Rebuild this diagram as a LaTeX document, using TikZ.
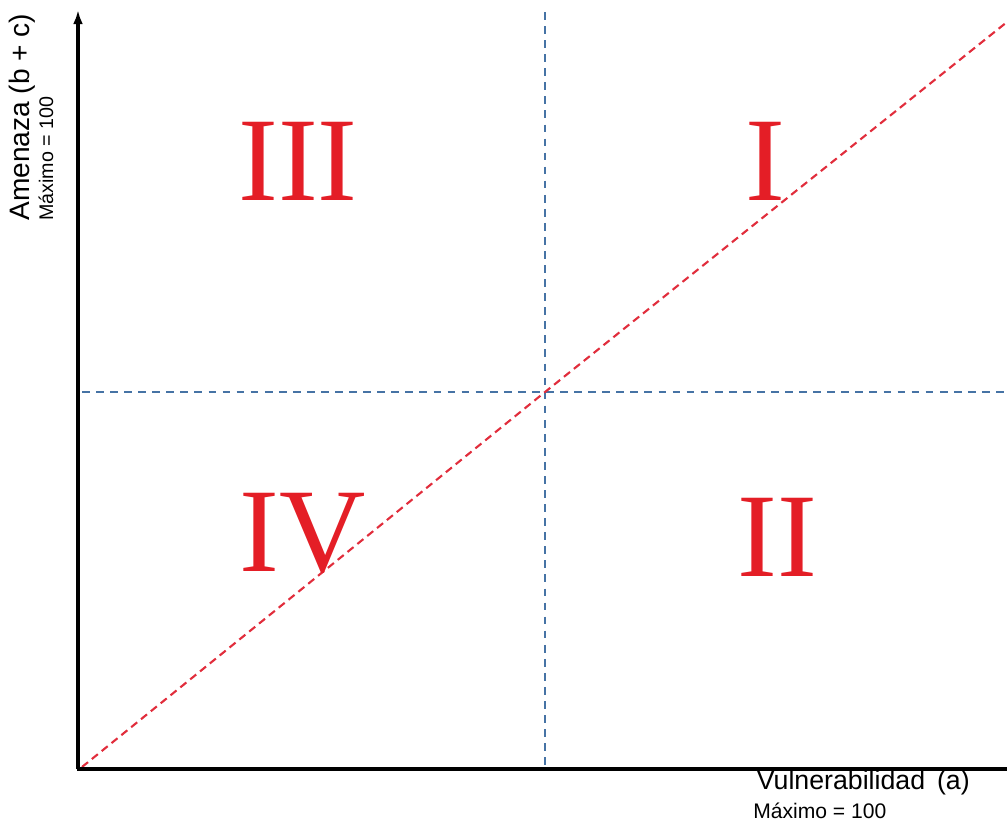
\documentclass[tikz,border=0pt]{standalone}
\usepackage{fontspec}
\usetikzlibrary{arrows.meta}
\setmainfont{Liberation Serif}
\setsansfont{Liberation Sans}
\definecolor{zonered}{RGB}{228,30,38}
\definecolor{divblue}{RGB}{70,115,165}
\definecolor{diagred}{RGB}{225,45,60}
\tikzset{
  zone/.style={text=zonered, font=\fontsize{85}{85}\selectfont, inner sep=0pt},
  divider/.style={divblue, line width=1.3pt, dash pattern=on 5.5pt off 4.5pt},
  diagonal/.style={diagred, line width=1.5pt, dash pattern=on 5.5pt off 3.5pt},
  axis/.style={black, line width=2.2pt},
  axislabel/.style={font=\sffamily\fontsize{20}{20}\selectfont, inner sep=0pt},
  maxlabel/.style={font=\sffamily\fontsize{14}{14}\selectfont, inner sep=0pt}
}
\begin{document}
\begin{tikzpicture}[x=0.025cm, y=-0.025cm]

\useasboundingbox (0,0) rectangle (1007,823);

% Key points
\coordinate (origin) at (78,769);
\coordinate (ytop) at (78,10);
\coordinate (xend) at (1007,769);
\coordinate (centre) at (545,392);
\coordinate (vtop) at (545,12);
\coordinate (vbot) at (545,769);
\coordinate (hleft) at (82,392);
\coordinate (hright) at (1007,392);
\coordinate (dstart) at (82,767);
\coordinate (dend) at (1007,22);

% Quadrant dividers
\draw[divider] (vtop) -- (vbot);
\draw[divider] (hleft) -- (hright);

% Diagonal
\draw[diagonal] (dstart) -- (centre) -- (dend);

% Axes
\draw[axis, -{Latex[length=10pt,width=7pt]}] (origin) -- (ytop);
\draw[axis] ([xshift=-1pt]origin) -- (xend);

% Axis labels
\node[axislabel, rotate=90, anchor=west] (ylab) at (22,221) {Amenaza (b + c)};
\node[maxlabel, rotate=90, anchor=west] (ymax) at (46,221) {Máximo = 100};
\node[axislabel, font=\sffamily\fontsize{19}{19}\selectfont, anchor=east] (xlab) at (970,783) {Vulnerabilidad\, (a)};
\node[maxlabel, font=\sffamily\fontsize{15}{15}\selectfont, anchor=west] (xmax) at (753,811) {Máximo = 100};

% Quadrants
\node[zone] (q3) at (298,161) {III};
\node[zone] (q1) at (765,161) {I};
\node[zone] (q4) at (303,533) {IV};
\node[zone] (q2) at (777,537) {II};

\end{tikzpicture}
\end{document}
